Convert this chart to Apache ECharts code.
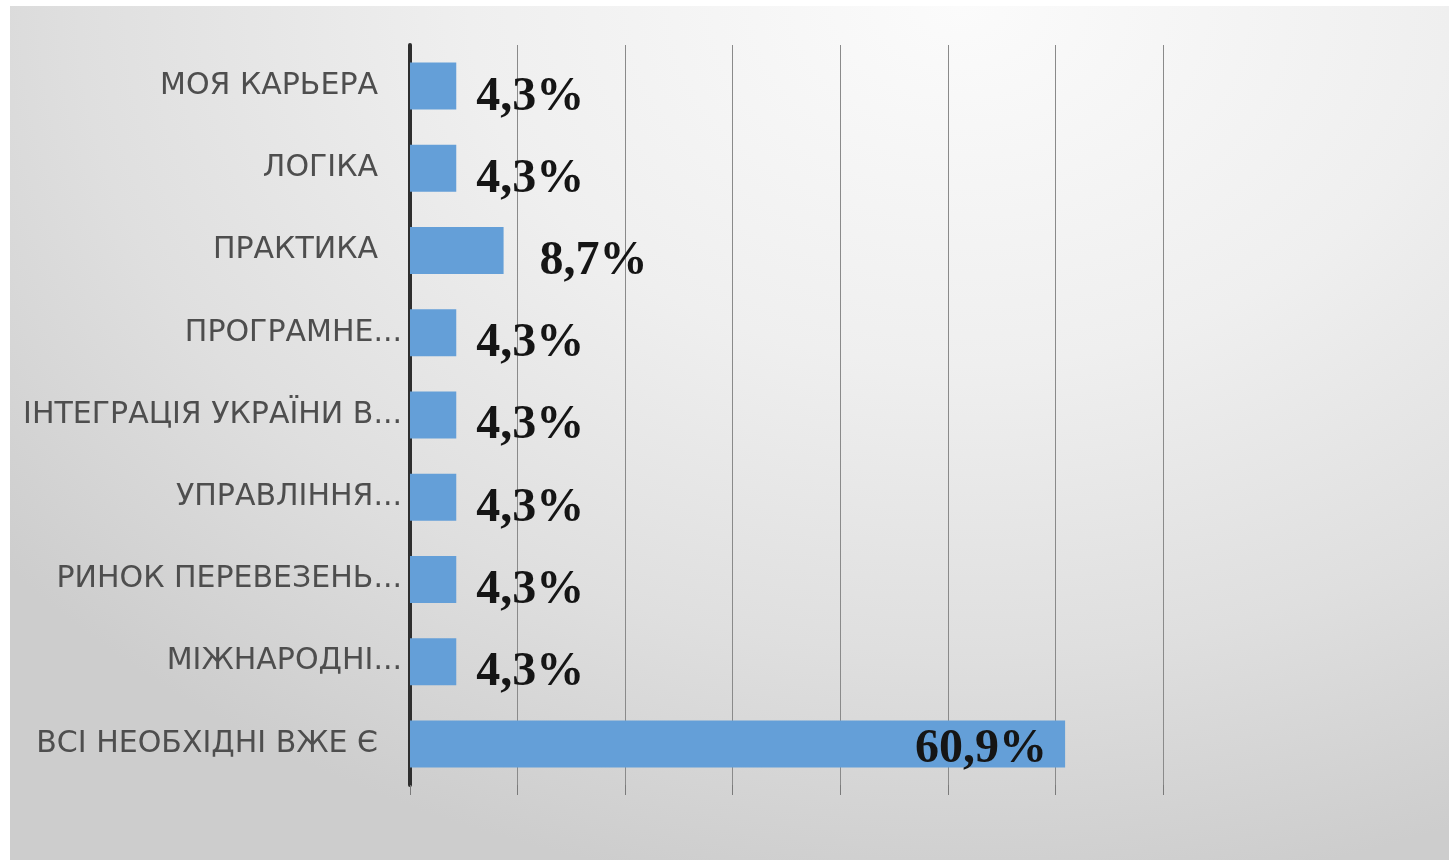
<!DOCTYPE html>
<html>
<head>
<meta charset="utf-8">
<script src="https://cdn.jsdelivr.net/npm/echarts@6/dist/echarts.min.js"></script>
<style>
  html, body { margin: 0; padding: 0; background: #fff; }
  #chart {
    position: absolute; left: 10px; top: 6px;
    width: 1439px; height: 854px;
    background: radial-gradient(ellipse 85% 105% at 66% 0%, #fbfbfb 0%, #efefef 40%, #dfdfdf 72%, #cdcdcd 100%);
  }
</style>
</head>
<body>
<div id="chart"></div>
<script>
// categories top to bottom
const categories = [
  'МОЯ КАРЬЕРА',
  'ЛОГІКА',
  'ПРАКТИКА',
  'ПРОГРАМНЕ...',
  'ІНТЕГРАЦІЯ УКРАЇНИ В...',
  'УПРАВЛІННЯ...',
  'РИНОК ПЕРЕВЕЗЕНЬ...',
  'МІЖНАРОДНІ...',
  'ВСІ НЕОБХІДНІ ВЖЕ Є'
]
const values = [4.3, 4.3, 8.7, 4.3, 4.3, 4.3, 4.3, 4.3, 60.9]
const labelTexts = ['4,3%', '4,3%', '8,7%', '4,3%', '4,3%', '4,3%', '4,3%', '4,3%', '60,9%']

const chart = echarts.init(document.getElementById('chart'))

const labelFont = {
  fontFamily: '"Liberation Serif", "Times New Roman", serif',
  fontWeight: 'bold',
  fontSize: 48,
  color: '#151515'
}
const catFont = { fontFamily: '"DejaVu Sans", sans-serif', fontSize: 30, color: '#4e4e4e' }

chart.setOption({
  backgroundColor: 'transparent',
  animation: false,
  grid: { left: 400, top: 39, width: 753, height: 740 },
  xAxis: {
    type: 'value',
    min: 0,
    max: 70,
    interval: 10,
    axisLine: { show: false },
    axisLabel: { show: false },
    axisTick: { show: true, length: 10, lineStyle: { color: '#7a7a7a', width: 1 } },
    splitLine: { show: true, lineStyle: { color: '#8a8a8a', width: 1 } }
  },
  yAxis: {
    type: 'category',
    inverse: true,
    data: categories,
    axisLine: { show: true, lineStyle: { color: '#2e2e2e', width: 4 } },
    axisTick: { show: false },
    axisLabel: {
      margin: 8,
      formatter: v => v.endsWith('...') ? '{e|' + v + '}' : '{f|' + v + '}',
      rich: {
        e: catFont,
        f: Object.assign({ padding: [0, 24, 0, 0] }, catFont)
      }
    }
  },
  series: [{
    type: 'bar',
    data: values.map((v, i) => ({
      value: v,
      label: i === values.length - 1
        ? { position: 'insideRight', distance: 18, offset: [0, 6] }
        : { position: 'right', distance: i === 2 ? 36 : 20, offset: [0, 11] }
    })),
    barWidth: 47,
    itemStyle: { color: '#649fd8' },
    label: Object.assign({
      show: true,
      formatter: p => labelTexts[p.dataIndex]
    }, labelFont)
  }]
})
</script>
</body>
</html>
